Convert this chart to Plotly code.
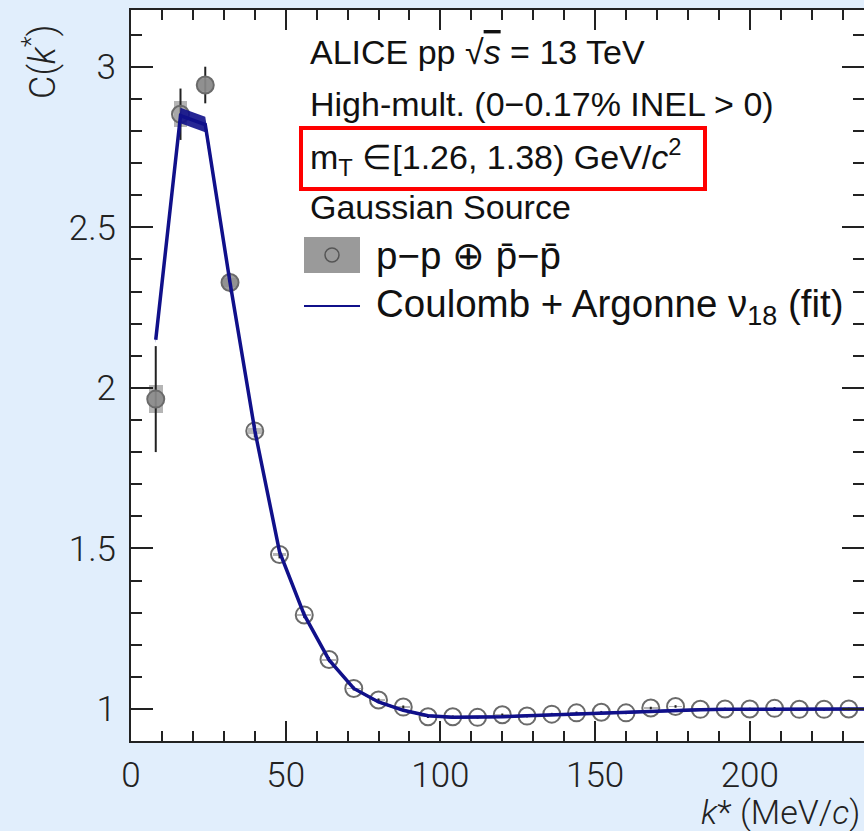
import plotly.graph_objects as go

# ---------------- data ----------------
k_data = [8, 16, 24, 32, 40, 48, 56, 64, 72, 80, 88, 96, 104, 112, 120, 128,
          136, 144, 152, 160, 168, 176, 184, 192, 200, 208, 216, 224, 232]
C_data = [1.965, 2.852, 2.943, 2.328, 1.866, 1.481, 1.293, 1.154, 1.064, 1.028,
          1.006, 0.976, 0.976, 0.974, 0.982, 0.978, 0.984, 0.988, 0.990, 0.988,
          1.003, 1.008, 0.999, 1.000, 1.000, 1.002, 0.999, 0.999, 1.000]
stat_err = [0.165, 0.080, 0.057, 0.030, 0.020, 0.012, 0.010, 0.008, 0.006, 0.005,
            0.005, 0.004, 0.004, 0.004, 0.004, 0.004, 0.004, 0.004, 0.004, 0.004,
            0.004, 0.004, 0.004, 0.004, 0.004, 0.004, 0.004, 0.004, 0.004]
sys_err = [0.044, 0.041, 0.020, 0.015, 0.010, 0.006, 0.004, 0.003, 0.002, 0.002,
           0.002, 0.002, 0.002, 0.002, 0.002, 0.002, 0.002, 0.002, 0.002, 0.002,
           0.002, 0.002, 0.002, 0.002, 0.002, 0.002, 0.002, 0.002, 0.002]

k_fit = [8, 16, 24, 32, 40, 48, 56, 64, 72, 80, 88, 96, 104, 112, 120, 128, 136,
         144, 152, 160, 168, 176, 184, 192, 200, 208, 216, 224, 232, 240]
C_fit = [2.150, 2.848, 2.820, 2.328, 1.868, 1.490, 1.293, 1.153, 1.064, 1.022,
         0.996, 0.979, 0.974, 0.974, 0.976, 0.979, 0.982, 0.985, 0.988, 0.991,
         0.994, 0.996, 0.998, 0.999, 0.999, 1.000, 1.000, 1.000, 1.000, 1.000]
fit_band = [0.010, 0.024, 0.024, 0.010, 0.006, 0.005, 0.004, 0.004, 0.004, 0.004,
            0.004, 0.004, 0.004, 0.004, 0.004, 0.004, 0.004, 0.004, 0.004, 0.004,
            0.004, 0.004, 0.004, 0.004, 0.004, 0.004, 0.004, 0.004, 0.004, 0.004]

x_ticks = [0, 50, 100, 150, 200]
y_ticks = [1, 1.5, 2, 2.5, 3]
y_tick_labels = ["1", "1.5", "2", "2.5", "3"]

# ---------------- styles ----------------
BG = "#E1EEFC"
NAVY = "#10108a"
AX = "#222222"
TICKFONT = dict(family="Roboto", size=35, color=AX, weight=300)
TXTFONT = dict(family="Liberation Sans", size=34, color="#111111")
LEGFONT = dict(family="Liberation Sans", size=38.5, color="#111111")

W, H = 864, 831
L, R, T, B = 131, 0, 10, 90
PW, PH = W - L - R, H - T - B


def px(x):
    return (x - L) / PW


def py(y):
    return (H - B - y) / PH


fill_colors = ["rgba(140,140,140,0.9)", "rgba(160,160,160,0.6)",
               "rgba(140,140,140,0.9)", "rgba(140,140,140,0.85)",
               "rgba(190,190,190,0.3)"] + ["rgba(255,255,255,0)"] * (len(k_data) - 5)

fig = go.Figure()

# systematic boxes
fig.add_trace(go.Bar(
    x=k_data, y=[2 * s for s in sys_err],
    base=[c - s for c, s in zip(C_data, sys_err)],
    width=4.4, marker=dict(color="rgba(120,120,120,0.55)", line=dict(width=0)),
    showlegend=False, hoverinfo="skip"))

# data points with stat errors
fig.add_trace(go.Scatter(
    x=k_data, y=C_data, mode="markers",
    error_y=dict(type="data", array=stat_err, color=AX, thickness=2, width=0),
    marker=dict(symbol="circle", size=17, color=fill_colors,
                line=dict(color="#6a6a6a", width=2)),
    showlegend=False))

# fit band
fig.add_trace(go.Scatter(
    x=k_fit, y=[c + e for c, e in zip(C_fit, fit_band)], mode="lines",
    line=dict(width=0, color=NAVY), showlegend=False, hoverinfo="skip"))
fig.add_trace(go.Scatter(
    x=k_fit, y=[c - e for c, e in zip(C_fit, fit_band)], mode="lines",
    line=dict(width=0, color=NAVY), fill="tonexty",
    fillcolor="rgba(16,16,138,0.9)", showlegend=False, hoverinfo="skip"))
# fit line
fig.add_trace(go.Scatter(
    x=k_fit, y=C_fit, mode="lines", line=dict(color=NAVY, width=3.5),
    showlegend=False))

# dummy trace for right-side y ticks
fig.add_trace(go.Scatter(x=[None], y=[None], yaxis="y2", showlegend=False))

yr = [0.9004, 3.1766]
xr = [0, PW / 3.094]

fig.update_layout(
    width=W, height=H,
    margin=dict(l=L, r=R, t=T, b=B, pad=0),
    paper_bgcolor=BG, plot_bgcolor="white",
    showlegend=False, bargap=0,
    xaxis=dict(range=xr, showgrid=False, zeroline=False,
               showline=True, linecolor=AX, linewidth=2, mirror="ticks",
               ticks="inside", ticklen=20, tickwidth=2, tickcolor=AX,
               tickvals=x_ticks, ticktext=[str(v) for v in x_ticks],
               tickfont=TICKFONT, ticklabelstandoff=2,
               minor=dict(ticks="inside", dtick=10, tick0=0, ticklen=10,
                          tickwidth=2, tickcolor=AX, showgrid=False)),
    yaxis=dict(range=yr, showgrid=False, zeroline=False,
               showline=True, linecolor=AX, linewidth=2, mirror=False,
               ticks="inside", ticklen=22, tickwidth=2, tickcolor=AX,
               tickvals=y_ticks, ticktext=y_tick_labels,
               tickfont=TICKFONT, ticklabelstandoff=6,
               minor=dict(ticks="inside", dtick=0.1, tick0=0, ticklen=11,
                          tickwidth=2, tickcolor=AX, showgrid=False)),
    yaxis2=dict(range=yr, overlaying="y", side="right", anchor="x",
                showgrid=False, zeroline=False, showline=False,
                showticklabels=False,
                ticks="inside", ticklen=22, tickwidth=2, tickcolor=AX,
                tickvals=y_ticks,
                minor=dict(ticks="inside", dtick=0.1, tick0=0, ticklen=11,
                           tickwidth=2, tickcolor=AX, showgrid=False)),
)

ann = []


def text(x, y, s, font, xanchor="left", angle=0):
    ann.append(dict(x=px(x), y=py(y), xref="paper", yref="paper", text=s,
                    showarrow=False, xanchor=xanchor, yanchor="middle",
                    font=font, textangle=angle))


text(308, 52, "ALICE pp √<span style='text-decoration:overline'><i>s</i></span> = 13 TeV", TXTFONT)
text(308, 104, "High-mult. (0−0.17% INEL > 0)", TXTFONT)
text(308, 157, "m<sub>T</sub> ∈[1.26, 1.38) GeV/<i>c</i><sup>2</sup>", TXTFONT)
text(308, 207, "Gaussian Source", TXTFONT)
text(374, 255, "p−p ⊕ p̄−p̄", LEGFONT)
text(374, 306, "Coulomb + Argonne ν<sub>18</sub> (fit)", LEGFONT)

AXTITLE = dict(family="Roboto", size=36, color=AX, weight=300)
ann.append(dict(x=px(40), y=py(62), xref="paper", yref="paper",
                text="C(<i>k</i><sup>*</sup>)", showarrow=False,
                xanchor="center", yanchor="middle", textangle=-90, font=AXTITLE))
ann.append(dict(x=px(862), y=py(812), xref="paper", yref="paper",
                text="<i>k</i>* (MeV/<i>c</i>)", showarrow=False,
                xanchor="right", yanchor="middle", font=dict(AXTITLE, size=34)))

fig.update_layout(annotations=ann)

shapes = [
    # red highlight box
    dict(type="rect", xref="paper", yref="paper",
         x0=px(301), x1=px(705), y0=py(128), y1=py(189),
         line=dict(color="#FF0000", width=4), fillcolor="rgba(0,0,0,0)"),
    # legend: gray box
    dict(type="rect", xref="paper", yref="paper",
         x0=px(304), x1=px(360), y0=py(237), y1=py(273),
         line=dict(width=0), fillcolor="#9a9a9a"),
    dict(type="circle", xref="paper", yref="paper",
         x0=px(325), x1=px(339), y0=py(248), y1=py(262),
         line=dict(color="#555555", width=1.5), fillcolor="rgba(0,0,0,0)"),
    # legend: fit line
    dict(type="line", xref="paper", yref="paper",
         x0=px(304), x1=px(360), y0=py(306), y1=py(306),
         line=dict(color=NAVY, width=2)),
]
fig.update_layout(shapes=shapes)

fig.write_html("out.html")
